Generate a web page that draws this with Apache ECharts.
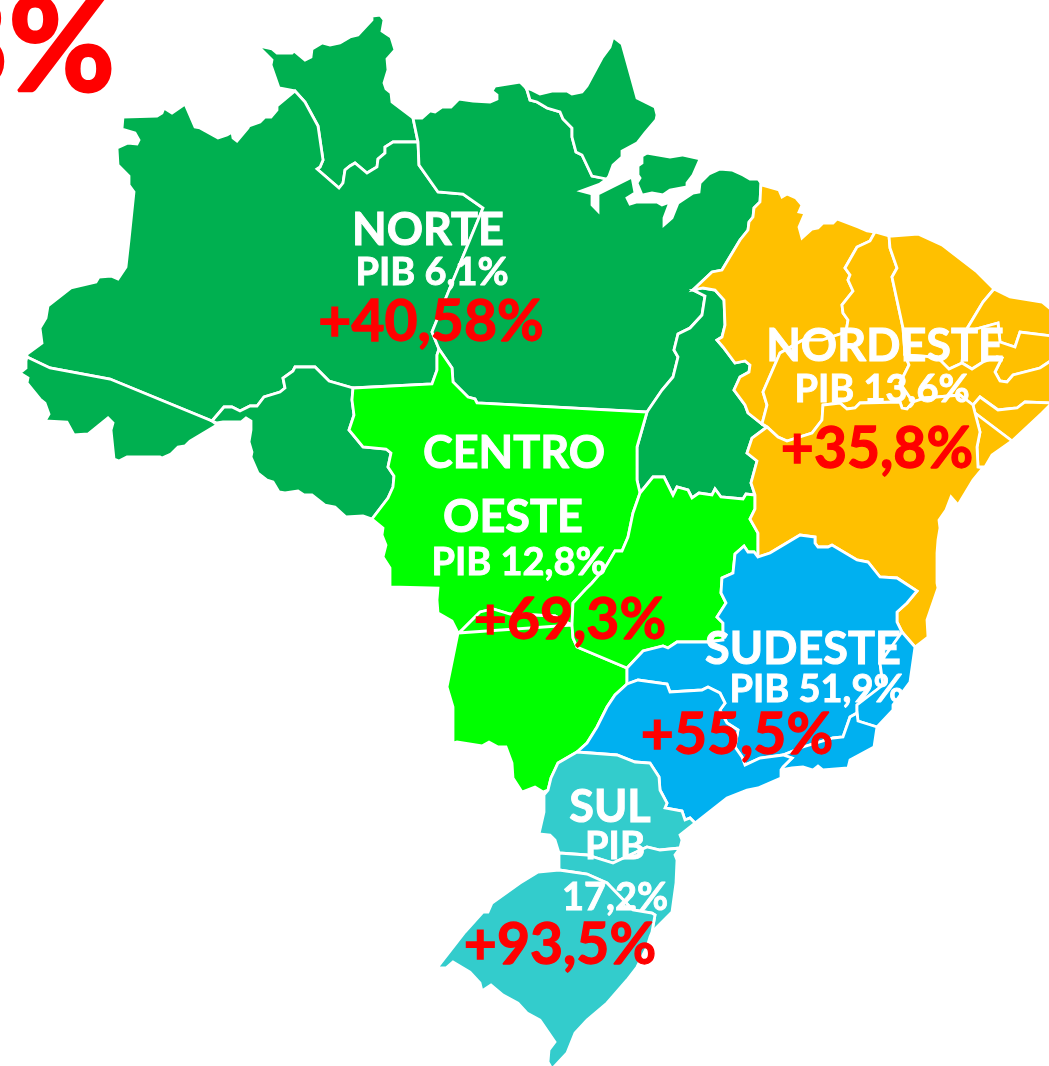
<!DOCTYPE html>
<html>
<head>
<meta charset="utf-8">
<title>PIB por região</title>
<script src="https://cdn.jsdelivr.net/npm/echarts@6/dist/echarts.min.js"></script>
<style>
html, body { margin: 0; padding: 0; background: #fff; overflow: hidden; }
#chart { width: 1049px; height: 1066px; }
</style>
</head>
<body>
<div id="chart"></div>
<script>
// ---- data ----
const regionNames = ['NORTE', 'CENTRO OESTE', 'NORDESTE', 'SUDESTE', 'SUL'];
const regionPib = ['PIB 6,1%', 'PIB 12,8%', 'PIB 13,6%', 'PIB 51,9%', 'PIB 17,2%'];
const regionGrowth = ['+40,58%', '+69,3%', '+35,8%', '+55,5%', '+93,5%'];
const headlineDigit = '8';
const headlinePercent = '%';

const statesNorte = ['RR', 'AM', 'AC', 'RO', 'PA', 'AP', 'TO'];
const statesCentro = ['MT', 'MS', 'GO'];
const statesNordeste = ['MA', 'PI', 'CE', 'RN', 'PB', 'PE', 'AL', 'SE', 'BA'];
const statesSudeste = ['MG', 'ES', 'RJ', 'SP'];
const statesSul = ['PR', 'SC', 'RS'];

// borders, shared between the neighbouring states
const rrNorth = [[295,91],[279,88],[271,65],[272,60],[258,46],[272,49],[277,53],[292,53],[294,51],[305,60],[311,57],[312,49],[322,43],[330,45],[340,43],[350,37],[358,35],[372,20],[372,16],[380,15],[384,20],[382,31],[391,37],[395,50],[387,59],[388,70],[384,83],[386,89],[391,93],[392,102],[413,118]];
const rrPa = [[413,118],[418,142]];
const rrAm = [[418,142],[393,142],[385,147],[385,153],[378,159],[377,167],[367,173],[355,163],[350,166],[345,170],[343,183],[339,188],[317,169],[320,167],[323,160],[318,126],[305,102],[295,91]];
const amCoast = [[295,91],[277,106],[277,110],[271,117],[265,117],[260,122],[249,126],[248,128],[237,141],[233,138],[232,132],[227,135],[218,138],[200,128],[195,127],[185,104],[172,113],[164,108],[162,113],[157,116],[123,117],[122,129],[135,133],[139,140],[137,144],[128,143],[117,148],[118,165],[129,176],[129,185],[134,192],[129,240],[126,267],[118,279],[111,276],[99,277],[96,282],[71,288],[48,306],[46,318],[40,328],[42,343],[27,354],[27,357]];
const acAm = [[27,357],[50,368],[110,379],[212,421]];
const acSouth = [[27,357],[26,361],[26,368],[20,373],[28,378],[27,383],[40,399],[45,403],[49,414],[45,421],[67,422],[74,435],[88,434],[108,418],[113,423],[111,430],[114,459],[119,461],[127,457],[160,457],[162,458],[171,454],[178,447],[185,446],[190,441],[217,425],[212,421]];
const roAm = [[212,421],[224,407],[232,407],[240,411],[250,406],[257,406],[264,397],[280,392],[285,388],[283,378],[293,371],[295,367],[315,367],[329,381],[353,388]];
const roSouth = [[212,421],[217,423],[223,422],[241,422],[246,418],[251,421],[251,430],[249,442],[252,452],[251,457],[258,473],[267,480],[273,482],[279,492],[285,493],[298,491],[304,495],[312,495],[325,505],[335,507],[346,517],[363,516],[372,519]];
const roMt = [[372,519],[388,498],[393,487],[394,476],[388,467],[391,453],[386,449],[363,447],[349,430],[354,415],[352,400],[353,388]];
const amMt = [[353,388],[432,384],[437,370],[437,355],[439,349]];
const amPa = [[439,349],[432,332],[452,283],[483,208],[463,194],[438,192],[419,165],[418,142]];
const mtPa = [[439,349],[452,368],[453,382],[468,397],[475,399],[477,403],[647,412]];
const mtTo = [[647,412],[637,447],[637,480],[640,493]];
const mtGo = [[640,493],[633,513],[628,537],[622,551],[615,551],[605,568],[592,583],[585,590],[573,603],[572,625]];
const mtMs = [[572,625],[568,623],[555,616],[510,614],[493,609],[480,612],[460,632],[458,633]];
const mtOuter = [[458,633],[452,621],[438,613],[437,600],[438,588],[390,587],[390,568],[383,557],[386,545],[382,535],[383,528],[372,519]];
const msSouth = [[458,633],[447,687],[453,707],[453,743],[457,742],[482,746],[489,742],[498,747],[506,747],[512,763],[513,778],[522,792],[535,787],[543,792],[548,790]];
const msPr = [[548,790],[551,778],[558,763],[577,752]];
const msSp = [[577,752],[587,743],[597,727],[607,707],[615,695],[627,684]];
const msMg = [[627,684],[627,668]];
const goMs = [[572,625],[573,638],[577,647],[627,668]];
const toGo = [[640,493],[653,477],[664,477],[673,495],[677,487],[688,490],[692,498],[699,493],[712,495],[715,489],[721,497],[743,499],[746,494],[755,495]];
const goBa = [[755,495],[755,509],[750,519],[758,533],[758,557]];
const goMg = [[758,557],[754,552],[748,552],[744,546],[735,554],[733,573],[722,578],[721,593],[726,603],[717,617],[723,623],[723,640],[707,642],[677,642],[668,648],[663,646],[643,651],[627,668]];
const toPa = [[693,290],[705,296],[702,315],[690,328],[678,334],[674,350],[678,357],[673,377],[662,390],[647,412]];
const toMa = [[693,290],[703,288],[715,290],[724,300],[725,325],[722,337],[717,340],[723,347],[735,363],[745,361],[750,365],[749,372],[740,377],[734,390],[745,405],[748,413],[762,424]];
const toBa = [[762,424],[767,427],[752,438],[747,453],[757,461],[751,483],[755,495]];
const paCoastW = [[413,118],[422,118],[430,111],[435,112],[442,107],[451,107],[459,99],[473,101],[490,102],[497,99],[497,95],[492,91],[495,86],[520,82],[526,88]];
const apPa = [[526,88],[527,90],[530,100],[537,102],[547,108],[560,112],[563,119],[572,128],[572,137],[576,152],[582,155],[592,176],[607,179]];
const apCoast = [[526,88],[532,90],[540,94],[553,91],[567,91],[572,94],[582,92],[587,86],[602,58],[610,47],[613,37],[622,44],[632,80],[637,98],[655,107],[657,115],[656,120],[645,133],[637,143],[622,151],[622,157],[613,165],[609,176],[607,179]];
const paMouth = [[607,179],[600,184],[581,191],[592,194],[592,205],[598,211],[598,194],[620,183],[632,177],[635,193],[627,198],[630,204],[637,202],[657,202],[662,205],[670,202],[664,218],[664,225],[672,218],[678,203],[693,193],[699,192],[700,183],[709,174],[720,169],[732,170],[743,175],[750,179],[758,179],[761,183]];
const marajo = [[642,156],[647,153],[670,157],[682,155],[700,159],[693,175],[687,183],[687,187],[670,190],[663,195],[652,193],[642,195],[637,183],[640,178],[638,175],[638,166],[642,163],[642,156]];
const maPa = [[761,183],[760,202],[754,208],[753,217],[749,222],[748,230],[740,240],[722,270],[712,272],[693,290]];
const maCoast = [[761,183],[762,185],[779,190],[782,197],[787,194],[796,198],[802,205],[799,212],[805,213],[799,227],[802,238],[812,229],[818,228],[823,223],[833,223],[837,219],[858,227],[867,231],[875,232]];
const maPi = [[875,232],[870,241],[857,247],[845,268],[850,275],[848,280],[853,291],[842,305],[843,313],[848,320],[846,332],[822,340],[803,340],[780,353],[763,392],[767,405],[762,424]];
const piCoast = [[875,232],[889,236]];
const piCe = [[889,236],[890,248],[897,268],[892,277],[903,328],[905,355]];
const piPe = [[905,355],[909,365],[900,383],[913,402]];
const piBa = [[913,402],[907,409],[902,408],[900,402],[860,403],[855,408],[847,409],[840,403],[823,405],[822,420],[812,433],[787,441],[778,437],[767,427],[762,424]];
const ceCoast = [[889,236],[892,236],[918,234],[942,245],[977,272],[994,289]];
const ceRn = [[994,289],[983,302],[965,332]];
const cePb = [[965,332],[962,363]];
const cePe = [[962,363],[949,369],[937,357],[905,355]];
const rnCoast = [[994,289],[1010,297],[1042,302],[1052,310],[1052,336]];
const rnPb = [[1052,336],[1020,332],[1015,347],[1000,342],[998,323],[965,332]];
const pbPe = [[1052,360],[1040,368],[1013,375],[1007,382],[1000,381],[995,372],[1002,358],[997,357],[983,362],[972,369],[962,363]];
const peAl = [[1052,403],[1025,402],[1017,408],[998,410],[980,397],[973,405]];
const peBa = [[973,405],[960,395],[925,398],[913,402]];
const alSe = [[973,405],[975,413],[1012,441]];
const alCoast = [[1012,441],[1042,413],[1052,403]];
const seCoast = [[1012,441],[992,455],[985,467],[978,467]];
const seBa = [[978,467],[977,447],[980,432],[975,413]];
const baCoast = [[978,467],[983,468],[973,480],[958,505],[951,497],[946,510],[939,520],[940,528],[938,540],[937,553],[937,583],[938,588],[927,620],[928,637],[915,647]];
const baEs = [[915,647],[902,632]];
const baMg = [[902,632],[897,622],[897,612],[907,603],[917,591],[897,578],[880,577],[868,562],[857,560],[832,545],[828,547],[818,547],[815,543],[815,537],[800,535],[770,553],[758,557]];
const mgEs = [[902,632],[880,663],[883,685],[857,705],[857,713]];
const mgRj = [[857,713],[850,717],[843,737],[833,738],[803,747],[783,755]];
const mgSp = [[783,755],[760,758],[745,765],[742,757],[735,747],[738,730],[727,723],[720,710],[725,703],[720,693],[708,687],[702,690],[670,692],[667,684],[638,680],[627,684]];
const esCoast = [[915,647],[910,682],[893,705],[893,710],[877,727]];
const esRj = [[877,727],[858,721],[857,713]];
const rjCoast = [[877,727],[874,747],[850,760],[848,768],[823,770],[818,766],[813,770],[803,767],[792,768],[781,770]];
const rjSp = [[781,770],[783,767],[792,758],[783,755]];
const spCoast = [[781,770],[781,778],[758,788],[747,790],[727,798],[695,823]];
const spPr = [[695,823],[690,818],[685,820],[682,811],[665,808],[667,803],[660,790],[659,777],[650,763],[635,762],[617,755],[577,752]];
const prCoast = [[695,823],[680,835],[682,840],[680,848]];
const prSc = [[680,848],[660,850],[647,847],[613,863],[587,855],[559,853]];
const prWest = [[559,853],[555,840],[550,835],[539,834],[544,812],[544,795],[548,790]];
const scCoast = [[680,848],[675,855],[677,860],[676,883],[672,912],[652,932]];
const scRs = [[652,932],[655,915],[652,913],[633,910],[607,883],[587,874],[559,870]];
const scWest = [[559,870],[559,853]];
const rsCoast = [[652,932],[650,937],[647,947],[637,967],[627,980],[607,1003],[587,1020],[575,1033],[567,1053],[552,1069],[548,1062],[549,1050],[555,1042],[540,1020],[527,1013],[518,1003],[503,995],[491,985],[482,991],[480,983],[470,972],[453,962],[446,968],[437,968],[465,932],[483,912],[488,912],[492,903],[520,883],[538,872],[559,870]];

const rev = s => s.slice().reverse();
const ring = (...parts) => [[].concat(...parts)];

const stateShapes = {
  RR: [ring(rrNorth, rrPa, rrAm)],
  AM: [ring(amCoast, acAm, roAm, amMt, amPa, rrAm)],
  AC: [ring(acSouth, rev(acAm))],
  RO: [ring(roSouth, roMt, rev(roAm))],
  PA: [ring(paCoastW, apPa, paMouth, maPa, toPa, rev(mtPa), amPa, rev(rrPa)), [marajo]],
  AP: [ring(apCoast, rev(apPa))],
  TO: [ring(toMa, toBa, rev(toGo), rev(mtTo), rev(toPa))],
  MT: [ring(amMt, mtPa, mtTo, mtGo, mtMs, mtOuter, roMt)],
  MS: [ring(msSouth, msPr, msSp, msMg, rev(goMs), rev(mtMs))],
  GO: [ring(toGo, goBa, goMg, rev(goMs), rev(mtGo))],
  MA: [ring(maCoast, maPi, rev(toMa), rev(maPa))],
  PI: [ring(piCoast, piCe, piPe, piBa, rev(maPi))],
  CE: [ring(ceCoast, ceRn, cePb, cePe, rev(piCe))],
  RN: [ring(rnCoast, rnPb, rev(ceRn))],
  PB: [ring(rev(rnPb), pbPe, rev(cePb))],
  PE: [ring(rev(pbPe), peAl, peBa, rev(piPe), rev(cePe))],
  AL: [ring(alSe, alCoast, peAl)],
  SE: [ring(alSe.slice(1), seCoast, seBa)],
  BA: [ring(rev(piBa), rev(peBa), rev(seBa), baCoast, baEs, baMg, rev(goBa), rev(toBa))],
  MG: [ring(rev(baMg), mgEs, mgRj, mgSp, msMg, rev(goMg))],
  ES: [ring(esCoast, esRj, rev(mgEs), rev(baEs))],
  RJ: [ring(rev(mgRj), rev(esRj), rjCoast, rjSp)],
  SP: [ring(rev(mgSp), rev(rjSp), spCoast, spPr, msSp)],
  PR: [ring(rev(spPr), prCoast, prSc, prWest, msPr)],
  SC: [ring(rev(prSc), scCoast, scRs, scWest)],
  RS: [ring(rev(scRs), rsCoast)]
};

const geoJson = {
  type: 'FeatureCollection',
  features: Object.keys(stateShapes).map(name => ({
    type: 'Feature',
    properties: { name: name },
    geometry: { type: 'MultiPolygon', coordinates: stateShapes[name] }
  }))
};
echarts.registerMap('brasil', geoJson);

const regionColors = ['#00B050', '#00FF00', '#FFC000', '#00B0F0', '#33CCCC'];
const regionStates = [statesNorte, statesCentro, statesNordeste, statesSudeste, statesSul];
const mapData = [];
regionStates.forEach((states, i) => {
  states.forEach(s => {
    mapData.push({
      name: s,
      value: parseFloat(regionGrowth[i].replace('+', '').replace(',', '.')),
      itemStyle: { areaColor: regionColors[i] }
    });
  });
});

// text placement, [centre x, centre y]; the thin stroke thickens Lato to the weight of the original face
const FONT = 'bold {s}px Lato, "Open Sans", sans-serif';
const addText = (text, x, y, size, fill, align) => ({
  type: 'text',
  x: x,
  y: y,
  z: 10,
  silent: true,
  style: {
    text: text,
    fill: fill,
    stroke: fill,
    lineWidth: size / 45,
    font: FONT.replace('{s}', size),
    textAlign: align || 'center',
    textVerticalAlign: 'middle'
  }
});
const centroWords = regionNames[1].split(' ');
const sulPib = regionPib[4].split(' ');
const texts = [
  addText(headlineDigit, 8, 46, 130, '#FF0000', 'right'),
  addText(headlinePercent, 115, 49, 130, '#FF0000', 'right'),
  addText(regionNames[0], 428, 230, 45, '#fff'),
  addText(regionPib[0], 432, 273, 38, '#fff'),
  addText(regionGrowth[0], 431, 323, 57, '#FF0000'),
  addText(centroWords[0], 514, 453, 45, '#fff'),
  addText(centroWords[1], 513, 517, 45, '#fff'),
  addText(regionPib[1], 519, 563, 38, '#fff'),
  addText(regionGrowth[1], 570, 621, 57, '#FF0000'),
  addText(regionNames[2], 885, 346, 45, '#fff'),
  addText(regionPib[2], 882, 390, 38, '#fff'),
  addText(regionGrowth[2], 877, 450, 57, '#FF0000'),
  addText(regionNames[3], 803, 649, 45, '#fff'),
  addText(regionPib[3], 817, 690, 38, '#fff'),
  addText(regionGrowth[3], 737, 736, 57, '#FF0000'),
  addText(regionNames[4], 610, 807, 45, '#fff'),
  addText(sulPib[0], 615, 847, 38, '#fff'),
  addText(sulPib[1], 615, 898, 38, '#fff'),
  addText(regionGrowth[4], 560, 946, 57, '#FF0000')
];

const chart = echarts.init(document.getElementById('chart'), null, { renderer: 'canvas' });
chart.setOption({
  animation: false,
  backgroundColor: '#fff',
  tooltip: { show: false },
  series: [
    {
      type: 'map',
      map: 'brasil',
      silent: true,
      roam: false,
      projection: {
        project: p => p,
        unproject: p => p
      },
      boundingCoords: [[0, 0], [1049, 1066]],
      left: 0,
      top: 0,
      width: 1049,
      height: 1066,
      label: { show: false },
      emphasis: { disabled: true },
      select: { disabled: true },
      itemStyle: { borderColor: '#fff', borderWidth: 2.8 },
      data: mapData
    }
  ],
  graphic: { elements: texts }
});
</script>
</body>
</html>
